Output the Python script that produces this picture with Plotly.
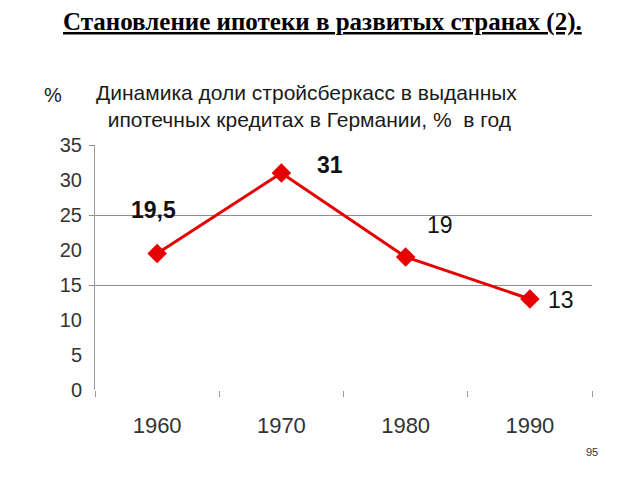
import plotly.graph_objects as go

# ---- data ----
years = ["1960", "1970", "1980", "1990"]
share = [19.5, 31, 19, 13]
share_labels = ["19,5", "31", "19", "13"]
y_ticks = [0, 5, 10, 15, 20, 25, 30, 35]
grid_vals = [15, 25, 35]

main_title = "<b><u>Становление ипотеки в развитых странах (2).</u></b>"
chart_title = "Динамика доли стройсберкасс в выданных<br>  ипотечных кредитах в Германии, %  в год"
unit_label = "%"
page_no = "95"

# ---- layout helpers (pixel geometry of plot area) ----
L, R, T, B = 95, 592, 145, 390
def px(x):
    return (x - L) / (R - L)
def py(y):
    return (B - y) / (B - T)

xi = list(range(len(years)))

fig = go.Figure()
# invisible trace to activate gridline axis
fig.add_trace(go.Scatter(x=[xi[0]], y=[share[0]], yaxis="y2", mode="markers",
                         marker=dict(opacity=0), hoverinfo="skip", showlegend=False))
fig.add_trace(go.Scatter(
    x=xi, y=share, mode="lines+markers",
    line=dict(color="#E60000", width=3),
    marker=dict(symbol="diamond", size=15, color="#E60000"),
    hoverinfo="skip", showlegend=False,
))

# data labels
label_shift = [(-4, 44), (49, 8), (34, 32), (31, -1)]
label_bold = [True, True, False, False]
for i, (xv, yv, txt) in enumerate(zip(xi, share, share_labels)):
    fig.add_annotation(
        x=xv, y=yv, text=f"<b>{txt}</b>" if label_bold[i] else txt,
        showarrow=False, xshift=label_shift[i][0], yshift=label_shift[i][1],
        font=dict(family="Liberation Sans, Arial", size=23, color="#111111"),
    )

def note(text, x, y, size, family="Liberation Sans, Arial", color="#1a1a1a", align="center"):
    fig.add_annotation(xref="paper", yref="paper", x=px(x), y=py(y),
                       xanchor="center", yanchor="middle", align=align,
                       text=text, showarrow=False,
                       font=dict(family=family, size=size, color=color))

note(main_title, 322, 22, 25, family="Liberation Serif, Times New Roman", color="#000000")
note(chart_title, 306, 106, 21, align="left")
note(unit_label, 53, 95, 20)
note(page_no, 592, 452, 11, color="#333333")

axis_font = dict(family="Liberation Sans, Arial", size=20, color="#333333")

fig.update_layout(
    width=640, height=480,
    margin=dict(l=L, r=640 - R, t=T, b=480 - B, autoexpand=False),
    paper_bgcolor="white", plot_bgcolor="white",
    xaxis=dict(
        range=[-0.5, 3.5], tickmode="array", tickvals=xi, ticktext=years,
        showgrid=False, zeroline=False, showline=False,
        ticks="", tickfont=dict(family="Liberation Sans, Arial", size=22, color="#333333"),
        ticklabelstandoff=20,
        minor=dict(tickmode="array", tickvals=[-0.5, 0.5, 1.5, 2.5, 3.5],
                   ticks="outside", ticklen=6, tickcolor="#999999", showgrid=False),
    ),
    yaxis=dict(
        range=[0, 35], tickmode="array", tickvals=y_ticks,
        showgrid=False, zeroline=False, showline=True, linecolor="#999999", linewidth=1,
        ticks="", tickfont=axis_font, ticklabelstandoff=8,
    ),
    yaxis2=dict(
        range=[0, 35], overlaying="y", side="left", tickmode="array", tickvals=grid_vals,
        showticklabels=False, showgrid=True, gridcolor="#8c8c8c", gridwidth=1,
        ticks="outside", ticklen=5, tickcolor="#8c8c8c", zeroline=False, showline=False,
    ),
)

fig.write_html("out.html", config={"displayModeBar": False},
               post_script="document.body.style.margin='0';document.body.style.overflow='hidden';")
